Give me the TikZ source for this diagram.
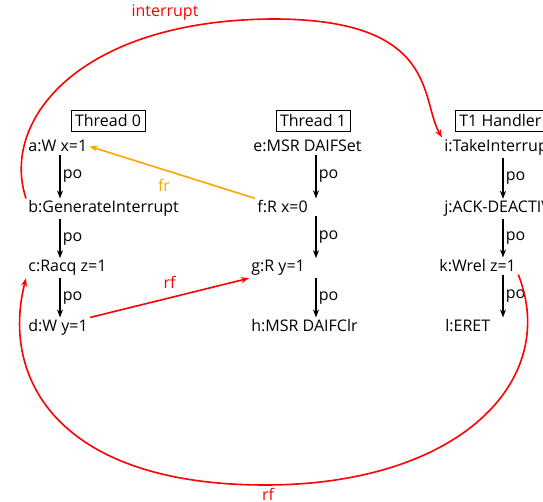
\documentclass[tikz,border=0pt]{standalone}
\usepackage{fontspec}
\setmainfont{Open Sans}
\usetikzlibrary{calc, arrows.meta}

\definecolor{frorange}{RGB}{255,165,0}

\tikzset{
  evt/.style={anchor=base west, inner sep=1pt},
  thrd/.style={draw, thin, inner sep=2pt},
  po/.style={-{Stealth[length=4pt,width=3pt]}, thick, black},
  rel/.style={-{Stealth[length=4pt,width=3pt]}, thick},
}

\begin{document}
\begin{tikzpicture}[x=0.5pt, y=-0.5pt, font=\fontsize{8}{9.5}\selectfont]

    % Fix the page to the reference size
    \clip (0,0) rectangle (543,502);

    % Thread headers
    \node[thrd] (t0) at (108,121) {Thread 0};
    \node[thrd] (t1) at (313,121) {Thread 1};
    \node[thrd, anchor=west] (t2) at (455,121) {T1 Handler};

    % Thread 0 events
    \node[evt] (a) at (26,152) {a:W x=1};
    \node[evt] (b) at (26,213) {b:GenerateInterrupt};
    \node[evt] (c) at (26,272) {c:Racq z=1};
    \node[evt] (d) at (26,332) {d:W y=1};

    % Thread 1 events
    \node[evt] (e) at (251,152) {e:MSR DAIFSet};
    \node[evt] (f) at (255,213) {f:R x=0};
    \node[evt] (g) at (249,272) {g:R y=1};
    \node[evt] (h) at (249,332) {h:MSR DAIFClr};

    % Handler events
    \node[evt] (i) at (442,152) {i:TakeInterrupt};
    \node[evt] (j) at (442,213) {j:ACK-DEACTIVATE};
    \node[evt] (k) at (437,272) {k:Wrel z=1};
    \node[evt] (l) at (443,332) {l:ERET};

    % Columns of the po arrows
    \coordinate (p0) at (60,0);
    \coordinate (p1) at (316,0);
    \coordinate (p2) at (503,0);

    % Program order
    \draw[po] (a.south -| p0) -- (b.north -| p0) node[midway, right, inner sep=1pt] {po};
    \draw[po] (b.south -| p0) -- (c.north -| p0) node[midway, right, inner sep=1pt] {po};
    \draw[po] (c.south -| p0) -- (d.north -| p0) node[midway, right, inner sep=1pt] {po};
    \draw[po] (e.south -| p1) -- (f.north -| p1) node[midway, right, inner sep=1pt] {po};
    \draw[po] (f.south -| p1) -- (g.north -| p1) node[midway, right, inner sep=1pt] {po};
    \draw[po] (g.south -| p1) -- (h.north -| p1) node[midway, right, inner sep=1pt] {po};
    \draw[po] (i.south -| p2) -- (j.north -| p2) node[midway, right, inner sep=1pt] {po};
    \draw[po] (j.south -| p2) -- (k.north -| p2) node[midway, right, inner sep=1pt] {po};
    \draw[po] (k.south -| p2) -- (l.north -| p2) node[midway, right, inner sep=1pt] {po};

    % Communication edges
    \draw[rel, frorange] (f.north west) -- (a.east) node[pos=0.55, below=1pt] {fr};
    \draw[rel, red] (d.north east) -- (g.south west) node[midway, above=1pt] {rf};

    % Interrupt edge
    \draw[rel, red] (b.north west) .. controls (0,120) and (80,20) .. (273,19)
        .. controls (440,19) and (420,100) .. (i.north west);
    \node[red] (lint) at (165,13) {interrupt};

    % Long rf edge
    \draw[rel, red] (k.south east) .. controls (560,380) and (460,485) .. (265,485)
        .. controls (60,485) and (0,380) .. (c.south west);
    \node[red] (lrf) at (268,494) {rf};

\end{tikzpicture}
\end{document}
